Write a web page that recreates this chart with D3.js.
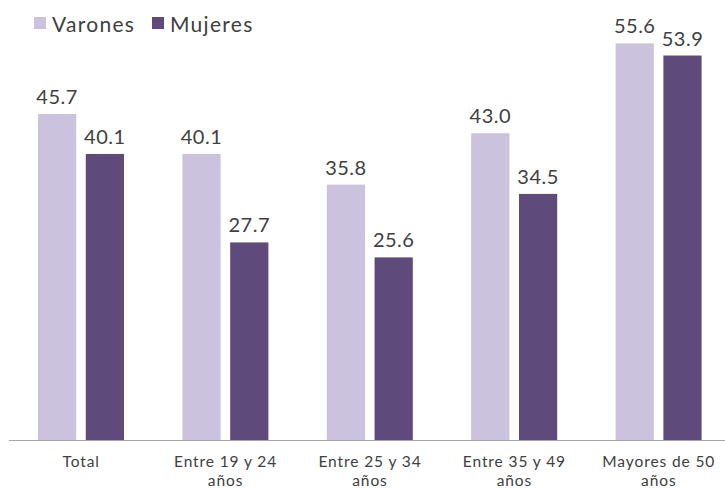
<!DOCTYPE html>
<html>
<head>
<meta charset="utf-8">
<script src="https://cdn.jsdelivr.net/npm/d3@7"></script>
<style>
body { margin: 0; background: #fff; }
text { font-family: "Lato", "Open Sans", sans-serif; fill: #404040; }
</style>
</head>
<body>
<div id="vis"></div>
<script>
var width = 725;
var height = 489;

var categories = ["Total", "Entre 19 y 24|años", "Entre 25 y 34|años", "Entre 35 y 49|años", "Mayores de 50|años"];
var series = ["Varones", "Mujeres"];
var varones = [45.7, 40.1, 35.8, 43.0, 55.6];
var mujeres = [40.1, 27.7, 25.6, 34.5, 53.9];
var colors = ["#cbc2dd", "#5f4a7c"];

var data = categories.map(function(c, i) {
    return { cat: c, values: [varones[i], mujeres[i]] };
});

var svg = d3.select("#vis")
    .append("svg")
    .attr("width", width)
    .attr("height", height);

var x0 = d3.scaleBand()
    .domain(categories)
    .range([9, 731])
    .padding(0);

var x1 = d3.scaleBand()
    .domain([0, 1])
    .range([29, 115])
    .paddingInner(0.2);

var y = d3.scaleLinear()
    .domain([0, 60])
    .range([440, 12]);

var groups = svg.selectAll(".group")
    .data(data)
    .enter()
    .append("g")
    .attr("class", "group")
    .attr("transform", function(d) { return "translate(" + x0(d.cat) + ",0)"; });

groups.selectAll("rect")
    .data(function(d) { return d.values; })
    .enter()
    .append("rect")
    .attr("x", function(d, i) { return x1(i); })
    .attr("width", x1.bandwidth())
    .attr("y", function(d) { return y(d); })
    .attr("height", function(d) { return y(0) - y(d); })
    .attr("fill", function(d, i) { return colors[i]; });

groups.selectAll(".label")
    .data(function(d) { return d.values; })
    .enter()
    .append("text")
    .attr("class", "label")
    .attr("x", function(d, i) { return x1(i) + x1.bandwidth() / 2; })
    .attr("y", function(d) { return y(d) - 10; })
    .attr("text-anchor", "middle")
    .style("font-size", "20px")
    .style("letter-spacing", "0.5px")
    .text(function(d) { return d.toFixed(1); });

// axis line
svg.append("line")
    .attr("x1", 9)
    .attr("x2", 725)
    .attr("y1", y(0) + 0.5)
    .attr("y2", y(0) + 0.5)
    .attr("stroke", "#a6a6a6")
    .attr("stroke-width", 1);

// category labels, one text per line
var xaxis = svg.append("g");
categories.forEach(function(c) {
    var lines = c.split("|");
    lines.forEach(function(l, j) {
        xaxis.append("text")
            .attr("x", x0(c) + x0.bandwidth() / 2)
            .attr("y", 467 + j * 19)
            .attr("text-anchor", "middle")
            .style("font-size", "15.5px")
            .style("letter-spacing", "0.9px")
            .text(l);
    });
});

// legend
var legendX = [34, 152];
var legend = svg.selectAll(".legend")
    .data(series)
    .enter()
    .append("g")
    .attr("class", "legend")
    .attr("transform", function(d, i) { return "translate(" + legendX[i] + ",17)"; });

legend.append("rect")
    .attr("width", 12)
    .attr("height", 12)
    .attr("fill", function(d, i) { return colors[i]; });

legend.append("text")
    .attr("x", 18)
    .attr("y", 15)
    .style("font-size", "21px")
    .style("letter-spacing", "1.3px")
    .text(function(d) { return d; });
</script>
</body>
</html>
